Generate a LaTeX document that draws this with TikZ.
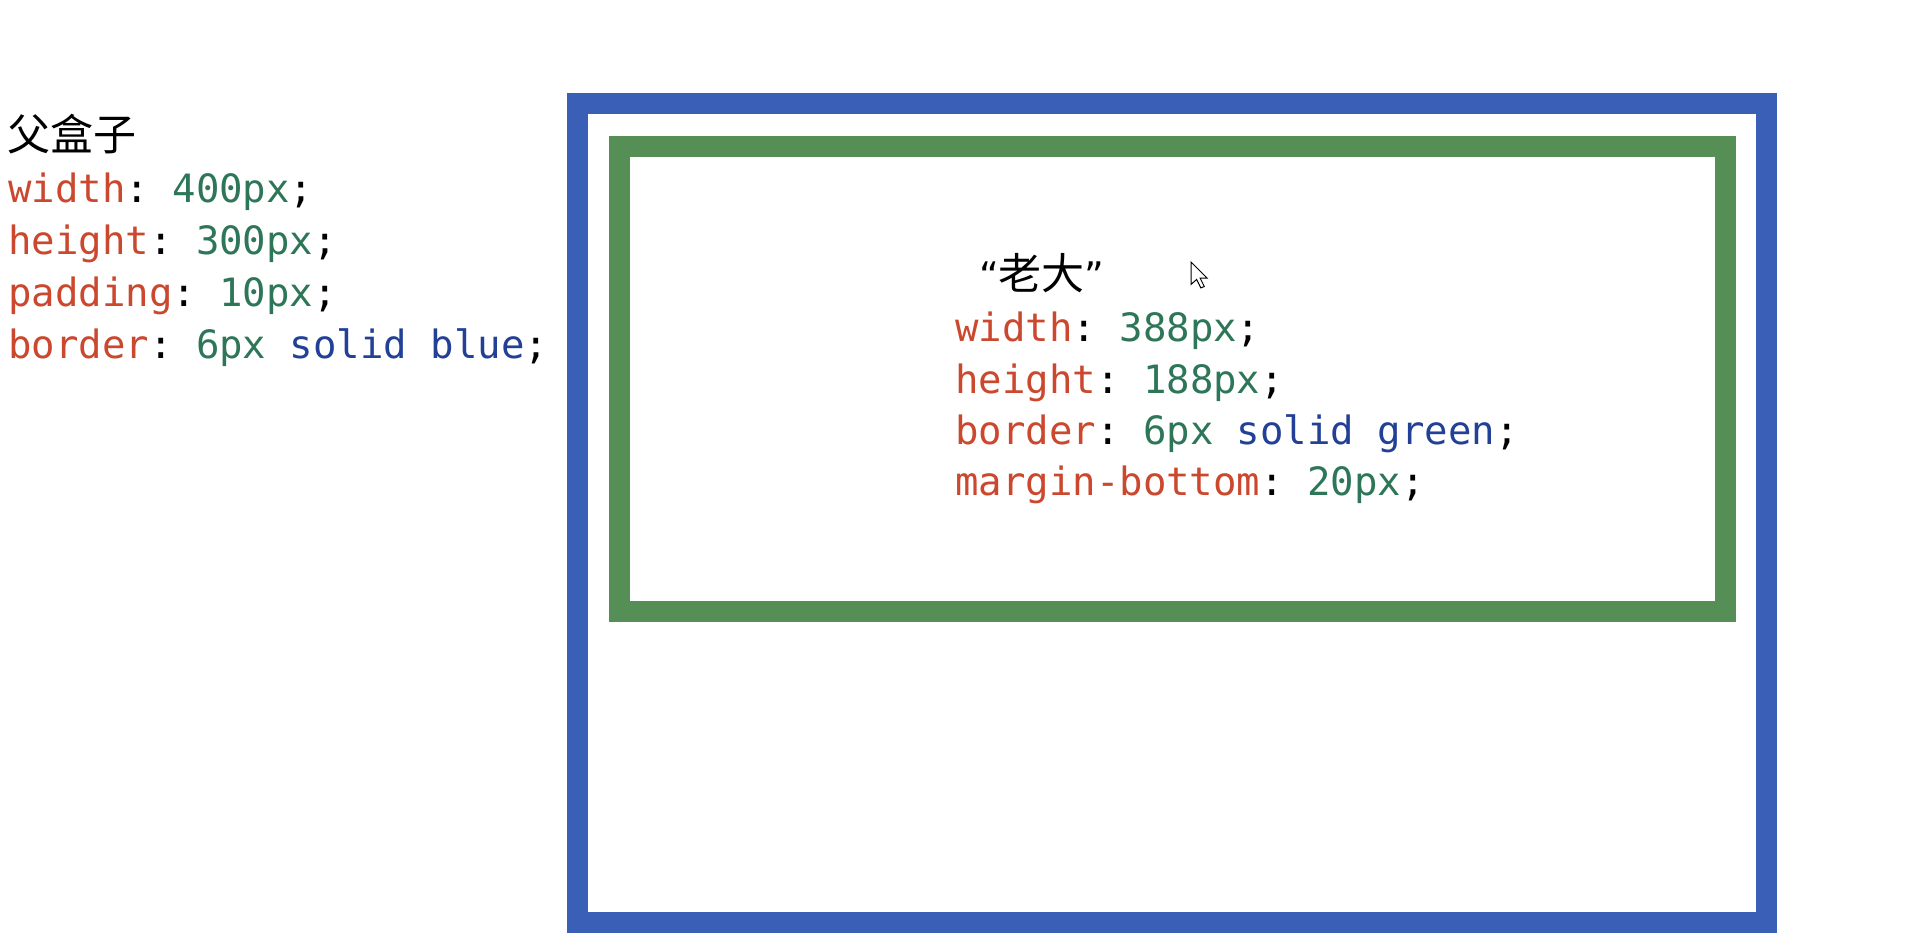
\documentclass[tikz,border=0pt]{standalone}
\usepackage{fontspec}
\setmonofont{DejaVu Sans Mono}
\newfontfamily\cjk{Noto Sans CJK SC}
\newfontfamily\quotefont{DejaVu Sans}

\definecolor{propred}{RGB}{203,72,46}
\definecolor{valgreen}{RGB}{46,118,88}
\definecolor{kwblue}{RGB}{34,64,150}
\definecolor{parentblue}{RGB}{58,95,182}
\definecolor{childgreen}{RGB}{86,143,86}

\newcommand{\prop}[1]{\textcolor{propred}{#1}}
\newcommand{\val}[1]{\textcolor{valgreen}{#1}}
\newcommand{\kw}[1]{\textcolor{kwblue}{#1}}

\begin{document}
\begin{tikzpicture}[x=1pt,y=-1pt,
  codeline/.style={anchor=base west, inner sep=0pt, font=\ttfamily\fontsize{39}{39}\selectfont},
  title/.style={anchor=base west, inner sep=0pt, font=\cjk\fontsize{43}{43}\selectfont},
  frame/.style={draw=#1, line width=21pt, line join=miter}]
\useasboundingbox[fill=white] (0,0) rectangle (1912,940);

% parent box: 6px solid blue border
\draw[frame=parentblue] (577.5,103.5) rectangle (1766.5,922.5);
% first child: 6px solid green border
\draw[frame=childgreen] (619.5,146.5) rectangle (1725.5,611.5);

% parent box styles
\node[title] (ptitle) at (7,150) {父盒子};
\node[codeline] (pw) at (8,202) {\prop{width}: \val{400px};};
\node[codeline] (ph) at (8,254) {\prop{height}: \val{300px};};
\node[codeline] (pp) at (8,306) {\prop{padding}: \val{10px};};
\node[codeline] (pb) at (8,358) {\prop{border}: \val{6px} \kw{solid blue};};

% child box styles
\node[title] (ctitle) at (979,289) {{\quotefont\fontsize{38}{38}\selectfont “}老大{\quotefont\fontsize{38}{38}\selectfont ”}};
\node[codeline] (cw) at (955,341) {\prop{width}: \val{388px};};
\node[codeline] (ch) at (955,393) {\prop{height}: \val{188px};};
\node[codeline] (cb) at (955,444) {\prop{border}: \val{6px} \kw{solid green};};
\node[codeline] (cm) at (955,495) {\prop{margin-bottom}: \val{20px};};

% mouse pointer
\begin{scope}[shift={(1191,262)}, scale=1.4]
  \draw[fill=white, line width=1pt, line join=miter]
    (0,0) -- (0,16) -- (4,12.5) -- (7,18.5) -- (9.5,17.5) -- (6.5,11.5) -- (11.5,11.5) -- cycle;
\end{scope}
\end{tikzpicture}
\end{document}
